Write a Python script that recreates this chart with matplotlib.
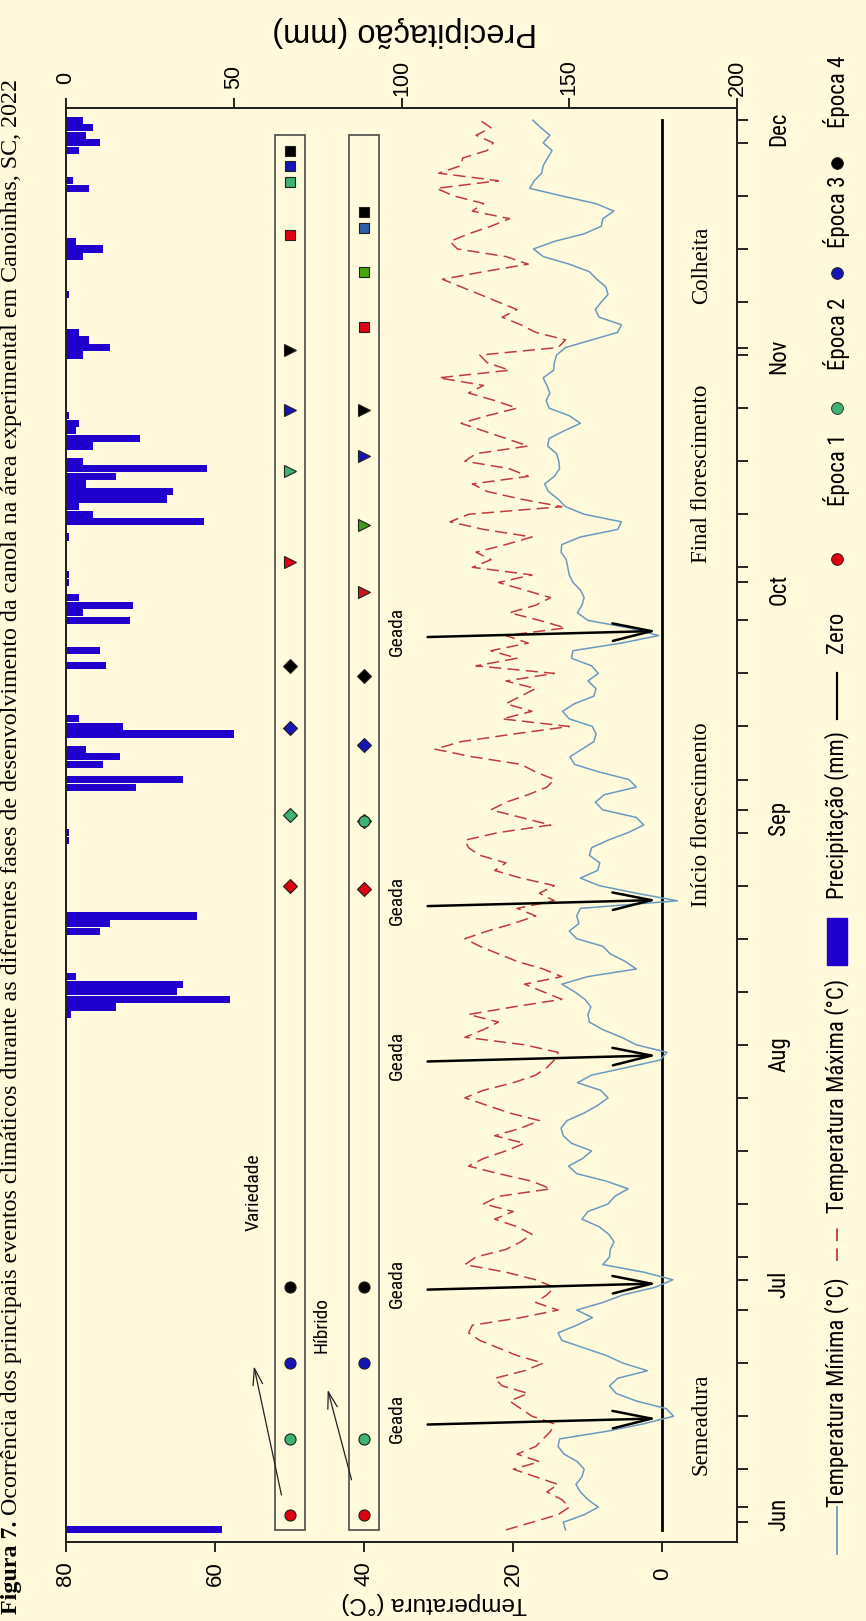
import os
import numpy as np
import matplotlib
matplotlib.use("Agg")
import matplotlib.pyplot as plt
from matplotlib import font_manager
from matplotlib.font_manager import FontProperties
from matplotlib.lines import Line2D
from matplotlib.patches import Rectangle

# fonts
def pick(*names):
    avail = {f.name for f in font_manager.fontManager.ttflist}
    for n in names:
        if n in avail:
            return n
    return "DejaVu Sans"

def find_condensed():
    cands = []
    for f in font_manager.fontManager.ttflist:
        fn = os.path.basename(f.fname).lower()
        if ("narrow" in fn or "condensed" in fn) and not any(
                k in fn for k in ("bold", "italic", "oblique", "light", "thin", "black", "medium", "semi")):
            cands.append(f.fname)
    for p in ("liberationsansnarrow-regular", "robotocondensed-regular",
              "roboto_condensed", "opensans_condensed", "opensanscondensed",
              "dejavusanscondensed.ttf", "notosans-condensed"):
        for c in cands:
            if p in os.path.basename(c).lower().replace(" ", ""):
                return c
    return cands[0] if cands else None

SANS = pick("Liberation Sans", "Arial")
SERIF = pick("Liberation Serif", "Times New Roman", "DejaVu Serif")
narrow_path = find_condensed()

def nfp(size):
    if narrow_path:
        return FontProperties(fname=narrow_path, size=size)
    return FontProperties(family=SANS, size=size * 0.84)

# ---------------- data ----------------
# day 0 = 1 Jun 2022
first_day = -3
tmin = [13.0, 13.3, 10.5, 8.6, 10.0, 11.0, 11.6, 10.8, 10.5, 11.4,
        13.2, 14.0, 13.8, 7.5, 2.5, -1.5, -0.5, 3.5, 6.2, 7.1,
        6.0, 2.0, 5.3, 7.5, 10.5, 13.5, 14.0, 11.5, 9.4, 11.5,
        8.0, 5.3, 1.0, -1.4, 2.5, 8.0, 7.1, 7.0, 6.5, 7.2,
        8.5, 10.8, 10.0, 7.3, 6.4, 4.6, 7.5, 11.5, 12.6, 10.7,
        9.5, 12.2, 13.3, 13.6, 12.8, 10.5, 8.7, 7.3, 8.3, 11.4,
        9.5, 4.8, 0.3, -0.6, 3.5, 5.5, 8.0, 9.8, 10.0, 9.6,
        10.4, 11.8, 13.5, 10.0, 3.5, 5.0, 7.0, 8.0, 11.5, 12.5,
        11.2, 11.5, 11.0, -2.0, 3.5, 8.5, 11.0, 8.7, 8.4, 9.8,
        9.5, 7.3, 4.6, 2.5, 3.5, 8.0, 9.0, 7.8, 3.5, 4.5,
        8.5, 11.8, 12.4, 10.8, 9.2, 8.9, 9.4, 12.5, 13.4, 11.8,
        9.2, 8.9, 10.0, 8.6, 9.5, 12.2, 12.0, 5.5, 0.5, 4.5,
        10.0, 11.4, 10.8, 10.5, 11.0, 12.0, 12.5, 12.7, 12.9, 13.6,
        13.5, 11.0, 6.0, 5.5, 10.5, 13.0, 14.0, 15.3, 15.8, 14.5,
        13.8, 13.9, 14.2, 15.4, 15.2, 13.2, 11.0, 12.5, 15.2, 15.6,
        15.1, 15.5, 16.0, 14.6, 14.5, 14.2, 13.0, 9.5, 6.0, 5.5,
        8.5, 9.0, 8.2, 7.3, 7.6, 8.8, 9.8, 12.5, 16.0, 17.3,
        14.5, 10.5, 8.2, 8.0, 6.5, 9.0, 13.5, 17.8, 17.2, 16.2,
        16.0, 15.4, 14.8, 16.0, 15.1, 16.3, 17.4]
tmax = [21.0, 17.5, 14.0, 12.5, 13.5, 15.5, 14.0, 17.0, 20.0, 16.5,
        19.5, 17.0, 16.0, 15.0, 14.5, 17.5, 19.0, 20.5, 18.0, 21.5,
        22.5, 18.5, 16.0, 19.5, 22.0, 24.5, 26.0, 25.5, 19.0, 14.0,
        17.0, 15.5, 14.5, 17.0, 21.0, 26.5, 25.0, 21.0, 19.0, 17.5,
        19.5, 22.5, 20.0, 24.0, 22.0, 15.0, 17.5, 22.0, 26.0, 24.0,
        21.0, 18.5, 22.5, 19.0, 16.5, 20.5, 23.5, 26.5, 24.0, 20.0,
        17.0, 15.5, 14.5, 14.0, 18.5, 26.5, 24.0, 22.0, 26.0, 20.0,
        13.5, 16.0, 18.5, 13.5, 16.0, 19.5, 22.0, 24.5, 26.5, 23.5,
        20.0, 17.0, 19.5, 14.5, 16.5, 14.5, 19.0, 22.5, 21.0, 24.5,
        26.0, 26.5, 22.0, 15.0, 19.0, 23.0, 21.0, 18.0, 15.5, 14.5,
        17.0, 19.0, 25.5, 30.5, 27.0, 20.0, 12.5, 21.5, 17.5, 21.0,
        19.0, 17.0, 21.0, 14.5, 25.0, 19.5, 23.0, 18.0, 21.0, 13.0,
        16.5, 20.5, 17.0, 15.0, 18.5, 22.0, 17.5, 25.5, 23.0, 25.0,
        21.0, 17.5, 24.0, 28.5, 26.0, 13.5, 19.0, 23.5, 25.5, 18.0,
        20.5, 26.5, 25.0, 18.0, 21.0, 24.0, 27.0, 23.5, 19.5, 22.5,
        26.0, 24.0, 30.0, 20.5, 23.5, 24.5, 14.0, 13.0, 17.0, 19.0,
        21.5, 19.5, 22.0, 24.5, 27.0, 29.5, 24.0, 18.0, 21.0, 27.5,
        28.5, 26.0, 23.0, 20.5, 25.5, 24.0, 28.0, 30.3, 22.0, 30.0,
        27.0, 26.8, 23.5, 22.7, 25.0, 23.0, 24.5]
prec_day = [-3,
            65, 66, 67, 68, 69, 70,
            76, 77, 78,
            88, 89,
            95, 96, 98, 99, 100, 102, 103, 104,
            111, 113, 117, 118, 119, 120,
            122, 123, 128,
            130, 131, 132, 133, 134, 135, 136, 137, 138, 140, 141, 142, 143, 144,
            152, 153, 154, 155, 160,
            165, 166, 167, 174, 175,
            179, 180, 181, 182, 183]
prec_mm = [46.5,
           1.5, 15, 49, 33, 35, 3,
           10, 13, 39,
           1, 1,
           21, 35, 11, 16, 6, 50, 17, 4,
           12, 10, 19, 5, 20, 4,
           1, 1, 1,
           41, 8, 4, 30, 32, 6, 15, 42, 5, 8, 22, 3, 4, 1,
           5, 13, 7, 4, 1,
           5, 11, 3, 7, 2,
           4, 10, 6, 8, 5]

months = ["Jun", "Jul", "Aug", "Sep", "Oct", "Nov", "Dec"]
month_day = [0, 30, 61, 92, 122, 153, 183]
week_day = list(range(-2, 184, 7))

geada_day = [11.7, 29.5, 59.6, 80.1, 115.6]

# phenology markers (day), order: Epoca 1..4
var_sow = [-1, 9, 19, 29]
var_flo = [81.9, 91.3, 102.8, 111.0]
var_end = [124.7, 136.7, 144.7, 152.7]
var_har = [167.8, 174.9, 176.9, 178.9]
hib_sow = [-1, 9, 19, 29]
hib_flo = [81.5, 90.5, 100.5, 109.6]
hib_end = [120.7, 129.6, 138.7, 144.7]
hib_har = [155.7, 162.9, 168.8, 170.9]

stage_names = ["Semeadura", "Início florescimento", "Final florescimento", "Colheita"]
stage_day = [11.0, 91.4, 136.3, 163.8]

# ---------------- style ----------------
BG = "#FFFADC"
C_TMIN = "#6A9AC2"
C_TMAX = "#C23B3B"
C_PREC = "#2000CC"
EP = ["#E00010", "#3CB371", "#1515B5", "#000000"]
EP_HIB_SQ = ["#E00010", "#46A80A", "#2E5FA8", "#000000"]
EP_HIB_TR = ["#C81818", "#3E9A10", "#1515B5", "#000000"]

W, H = 866, 1621
fig = plt.figure(figsize=(W / 100, H / 100), dpi=100, facecolor=BG)

L, R, T, B = 66, 737, 108, 1542
ax = fig.add_axes([L / W, 1 - B / H, (R - L) / W, (B - T) / H], facecolor=BG)
ax.set_xlim(80, -10)
ax.set_ylim(-4.6, 184.6)
ax2 = ax.twiny()
ax2.set_xlim(0, 200)

days = np.arange(first_day, first_day + len(tmin))

# precipitation bars hanging from the top axis (left in this layout)
ax2.barh(prec_day, prec_mm, height=0.95, color=C_PREC, edgecolor="none", zorder=2)

ax.plot([0, 0], [days[0], days[-1]], color="black", lw=2.0, zorder=3)
ax.plot(tmin, days, color=C_TMIN, lw=1.1, zorder=4)
ax.plot(tmax, days, color=C_TMAX, lw=1.1, dashes=(8, 4), zorder=4)

# geada arrows
for d in geada_day:
    ax.annotate("", xy=(0.7, d), xytext=(31.5, d - 0.8),
                arrowprops=dict(arrowstyle="->,head_length=2.0,head_width=0.45",
                                color="black", lw=1.8, shrinkA=0, shrinkB=0,
                                mutation_scale=14), zorder=5)
    ax.text(35.6, d, "Geada", rotation=90, ha="center", va="center",
            fontproperties=nfp(14), zorder=5)

# stage labels
for name, d in zip(stage_names, stage_day):
    ax.text(-5.2, d, name, rotation=90, ha="center", va="center",
            family=SERIF, fontsize=16.5, zorder=5)

# group boxes
for tc in (50, 40):
    ax.add_patch(Rectangle((tc - 2.0, -3.0), 4.0, 184.0, fill=False,
                           edgecolor="#4A4A4A", lw=1.2, zorder=3))

def marks(tc, dlist, shape, colors, size):
    for d, c in zip(dlist, colors):
        ax.plot([tc], [d], marker=shape, ms=size, color=c, mec="#202020",
                mew=0.8, ls="none", zorder=6)

marks(50, var_sow, "o", EP, 8)
marks(50, var_flo, "D", EP, 7)
marks(50, var_end, ">", EP, 8)
marks(50, var_har, "s", EP, 7)
marks(40, hib_sow, "o", EP, 8)
marks(40, hib_flo, "D", EP, 7)
ax.plot([40], [hib_flo[1]], marker="o", ms=8, color=EP[1], mec="#202020",
        mew=0.8, ls="none", zorder=7)
marks(40, hib_end, ">", EP_HIB_TR, 8)
marks(40, hib_har, "s", EP_HIB_SQ, 7)

# group labels with thin arrows
for lab, tail, tip, pos in [("Variedade", (51.1, 1.6), (54.8, 18.6), (54.9, 41.5)),
                             ("Híbrido", (41.7, 3.6), (44.9, 15.5), (45.7, 24.0))]:
    ax.annotate("", xy=tip, xytext=tail,
                arrowprops=dict(arrowstyle="->,head_length=1.2,head_width=0.35",
                                color="#222222", lw=0.9, shrinkA=0, shrinkB=0,
                                mutation_scale=10), zorder=5)
    ax.text(pos[0], pos[1], lab, rotation=90, ha="center", va="center",
            fontproperties=nfp(14))

# axes, ticks
for a in (ax, ax2):
    for s in a.spines.values():
        s.set_linewidth(1.4)
        s.set_color("#222222")

ax.set_xticks([0, 20, 40, 60, 80])
ax.tick_params(axis="x", direction="out", length=7, width=1.2, pad=16,
               labelsize=16, labelrotation=90)
for t in ax.get_xticklabels():
    t.set_family(SANS)
    t.set_va("center")

ax2.set_xticks([0, 50, 100, 150, 200])
ax2.tick_params(axis="x", direction="out", length=7, width=1.2, pad=15,
                labelsize=15.5, labelrotation=90)
for t in ax2.get_xticklabels():
    t.set_family(SANS)
    t.set_va("center")

ax.yaxis.set_ticks_position("right")
ax.set_yticks(month_day)
ax.set_yticklabels(months)
ax.set_yticks(week_day, minor=True)
ax.tick_params(axis="y", which="both", direction="out", length=8, width=1.2)
ax.tick_params(axis="y", which="major", pad=22, labelrotation=90)
for t in ax.get_yticklabels():
    t.set_fontproperties(nfp(16.5))
    t.set_ha("center")

# axis titles (upside down, like the rotated page)
fig.text(434 / W, 1 - 1603 / H, "Temperatura (°C)", rotation=180, ha="center",
         va="center", family=SANS, fontsize=17.5)
fig.text(405 / W, 1 - 32 / H, "Precipitação (mm)", rotation=180, ha="center",
         va="center", family=SANS, fontsize=23.5)

# legend column on the right
lx = 837 / W
lfp = nfp(16.5)
def ytf(y):
    return 1 - y / H

fig.lines.append(Line2D([lx, lx], [ytf(1554), ytf(1507)], color=C_TMIN, lw=1.3,
                        transform=fig.transFigure))
fig.text(lx, ytf(1392), "Temperatura Mínima (°C)", rotation=90, ha="center",
         va="center", fontproperties=lfp)
fig.lines.append(Line2D([lx, lx], [ytf(1261), ytf(1224)], color=C_TMAX, lw=1.3,
                        dashes=(7, 4), transform=fig.transFigure))
fig.text(lx, ytf(1096), "Temperatura Máxima (°C)", rotation=90, ha="center",
         va="center", fontproperties=lfp)
fig.patches.append(Rectangle((lx - 10 / W, ytf(965)), 20 / W, 47 / H,
                             color=C_PREC, transform=fig.transFigure))
fig.text(lx, ytf(815), "Precipitação (mm)", rotation=90, ha="center",
         va="center", fontproperties=lfp)
fig.lines.append(Line2D([lx, lx], [ytf(719), ytf(673)], color="black", lw=1.6,
                        transform=fig.transFigure))
fig.text(lx, ytf(632), "Zero", rotation=90, ha="center", va="center",
         fontproperties=lfp)
for lab, c, yd, yt in [("Época 1", EP[0], 559, 470), ("Época 2", EP[1], 408, 334),
                       ("Época 3", EP[2], 273, 212), ("Época 4", EP[3], 163, 92)]:
    fig.lines.append(Line2D([lx], [ytf(yd)], marker="o", ms=8.5, color=c,
                            mec="#202020", mew=0.6, ls="none",
                            transform=fig.transFigure))
    fig.text(lx, ytf(yt), lab, rotation=90, ha="center", va="center",
             fontproperties=lfp)

# caption, running up the left edge
tx = 12 / W
y0 = 1614
fig.canvas.draw()
renderer = fig.canvas.get_renderer()
fs = 16
bold = fig.text(tx, ytf(y0), "Figura 7.", rotation=90, rotation_mode="anchor",
                ha="left", va="center", family=SERIF, weight="bold", fontsize=fs)
rest_txt = (" Ocorrência dos principais eventos climáticos durante as diferentes "
            "fases de desenvolvimento da canola na área experimental em "
            "Canoinhas, SC, 2022")
rest = fig.text(tx, 0, rest_txt, rotation=90, rotation_mode="anchor",
                ha="left", va="center", family=SERIF, fontsize=fs)
hb = bold.get_window_extent(renderer).height
hr = rest.get_window_extent(renderer).height
scale = (1614 - 83) / (hb + hr)
fs2 = fs * scale
bold.set_fontsize(fs2)
rest.set_fontsize(fs2)
hb = bold.get_window_extent(renderer).height
rest.set_position((tx, ytf(y0) + hb / H))

fig.savefig("out.png", dpi=100, facecolor=BG)
